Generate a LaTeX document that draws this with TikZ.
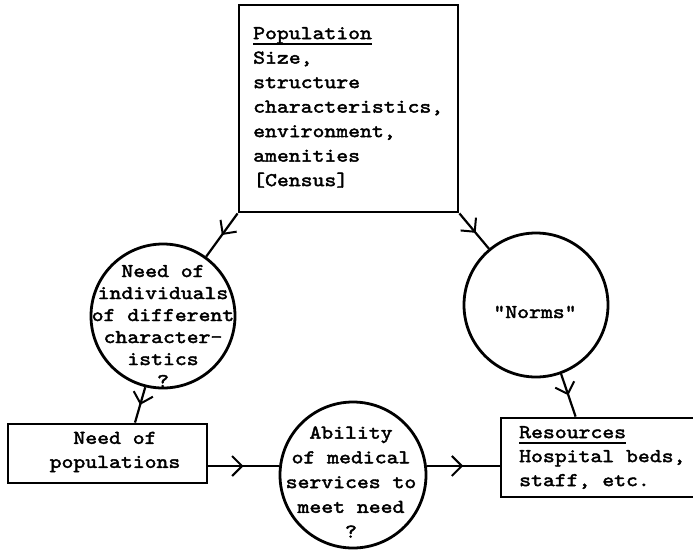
\documentclass[tikz,border=0pt]{standalone}
\usepackage{fontspec}
\setmonofont{lmmono10-regular.otf}[FakeBold=2.2, FakeStretch=1.16]
\usetikzlibrary{arrows.meta,decorations.markings}
\newcommand\myul[1]{\setbox0\hbox{#1}\rlap{\rule[-5.8pt]{\wd0}{1.6pt}}\box0}
\tikzset{
  boxs/.style={draw, rectangle, line width=2.8pt, inner sep=0pt},
  circ/.style={draw, circle, line width=2.8pt, inner sep=0pt},
  txt/.style={font=\fontsize{19.5}{24.5}\selectfont\ttfamily, inner sep=0pt},
  conn/.style={line width=2.2pt, postaction={decorate},
    decoration={markings, mark=at position #1 with {\arrow{Straight Barb[length=10pt,width=20pt,line width=2pt]}}}},
  conn/.default=0.5
}
\begin{document}
\begin{tikzpicture}[x=1pt,y=-1pt]
\useasboundingbox (0,0) rectangle (693,551);
\clip (0,0) rectangle (693,551);
% shapes
\node[boxs, minimum width=219pt, minimum height=207pt] (pop) at (348.5,108.5) {};
\node[circ, minimum size=144pt] (need) at (163,316) {};
\node[circ, minimum size=144pt] (norms) at (536,305) {};
\node[boxs, minimum width=199pt, minimum height=59pt] (needpop) at (107.5,453.5) {};
\node[circ, minimum size=146pt] (abil) at (353,475) {};
\node[boxs, minimum width=209pt, minimum height=79pt] (res) at (605.5,457.5) {};
% texts
\node[txt, anchor=north west, align=left] (poptxt) at (253,27)
  {\myul{Population}\\Size,\\structure\\characteristics,\\environment,\\amenities\\\relax[Census]};
\node[txt, align=center, font=\fontsize{19.5}{22}\selectfont\ttfamily] (needtxt) at (163,326)
  {Need of\\individuals\\of different\\character-\\istics\\?};
\node[txt] (normstxt) at (535,312) {"Norms"};
\node[txt, align=center, font=\fontsize{19.5}{24.75}\selectfont\ttfamily] (abiltxt) at (351,482)
  {Ability\\of medical\\services to\\meet need\\?};
\node[txt, align=center, font=\fontsize{19.5}{24}\selectfont\ttfamily] (needpoptxt) at (115,452)
  {Need of\\populations};
\node[txt, anchor=north west, align=left, font=\fontsize{19.5}{24}\selectfont\ttfamily] (restxt) at (519,426)
  {\myul{Resources}\\Hospital beds,\\staff, etc.};
% connectors
\coordinate (npout) at ([yshift=-12.5pt]needpop.east);
\coordinate (npin) at ([xshift=27.5pt]needpop.north);
\coordinate (resin) at ([xshift=76pt]res.north west);
\draw[conn] (pop.south west) -- (need);
\draw[conn=0.55] (pop.south east) -- (norms);
\draw[conn] (need.256) -- (npin);
\draw[conn] (npout) -- (npout -| abil.west);
\draw[conn] (abil.7) -- (abil.7 -| res.west);
\draw[conn] (norms.290) -- (resin);
\end{tikzpicture}
\end{document}
